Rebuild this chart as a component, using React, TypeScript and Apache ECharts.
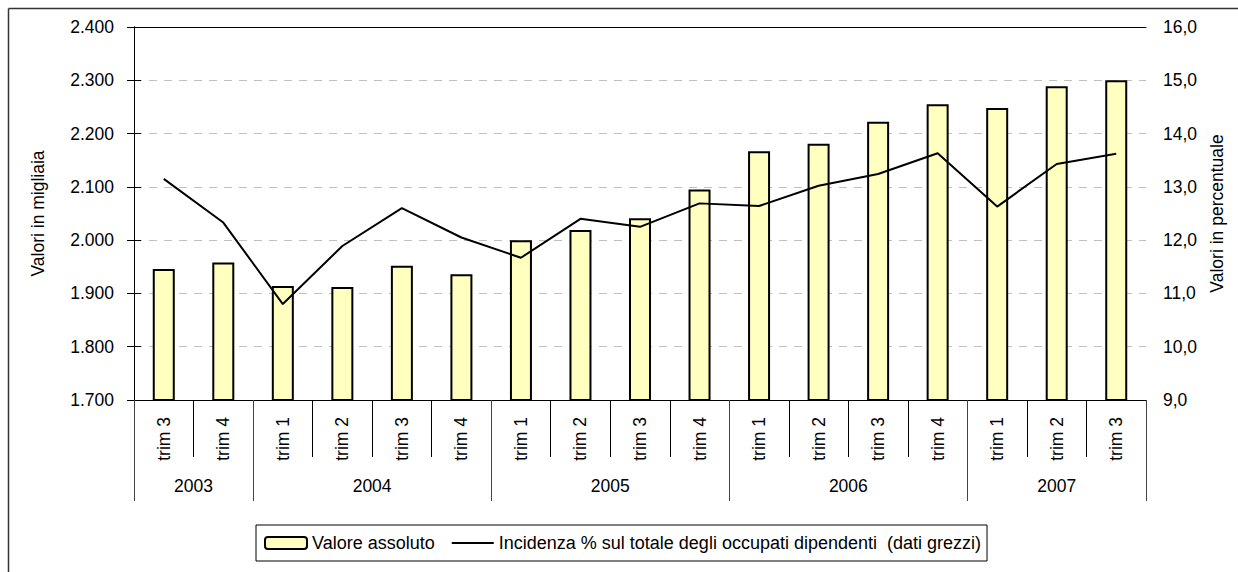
import React, { useEffect, useRef } from "react";
import * as echarts from "echarts";

const years = ["2003", "2004", "2005", "2006", "2007"];
const quartersByYear = [
  ["trim 3", "trim 4"],
  ["trim 1", "trim 2", "trim 3", "trim 4"],
  ["trim 1", "trim 2", "trim 3", "trim 4"],
  ["trim 1", "trim 2", "trim 3", "trim 4"],
  ["trim 1", "trim 2", "trim 3"],
];
const absValues = [1946, 1958, 1914, 1912, 1952, 1936, 2000, 2019, 2041, 2095, 2167, 2181, 2222, 2255, 2248, 2289, 2300];
const pctValues = [13.15, 12.33, 10.8, 11.89, 12.6, 12.05, 11.67, 12.4, 12.25, 12.69, 12.64, 13.02, 13.24, 13.63, 12.63, 13.43, 13.62];

const barName = "Valore assoluto";
const lineName = "Incidenza % sul totale degli occupati dipendenti  (dati grezzi)";
const leftAxisName = "Valori in migliaia";
const rightAxisName = "Valori in percentuale";

const FONT = "'Liberation Sans', Arial, sans-serif";
const AX = 17.5;

export default function App() {
  const ref = useRef<HTMLDivElement>(null);
  useEffect(() => {
    if (!ref.current) return;
    const chart = echarts.init(ref.current, undefined, { renderer: "svg" });

    const categories: string[] = [];
    const catLabel: Record<string, string> = {};
    quartersByYear.forEach((qs, yi) => {
      qs.forEach((q) => {
        const key = years[yi] + "|" + q;
        categories.push(key);
        catLabel[key] = q;
      });
    });
    const boundaries: number[] = [0];
    const centers: number[] = [];
    const centerYear: Record<string, string> = {};
    let acc = 0;
    quartersByYear.forEach((qs, yi) => {
      const c = acc + qs.length / 2;
      centers.push(c);
      centerYear[String(c)] = years[yi];
      acc += qs.length;
      boundaries.push(acc);
    });
    const total = acc;

    const fmtThousands = (v: number) => {
      const th = Math.floor(v / 1000);
      const rest = String(Math.round(v % 1000)).padStart(3, "0");
      return th + "." + rest;
    };

    chart.setOption({
      animation: false,
      textStyle: { fontFamily: FONT, color: "#000" },
      grid: {
        left: 134,
        right: 92,
        top: 27,
        bottom: 172,
        containLabel: false,
        outerBoundsMode: "none",
      },
      graphic: [
        {
          type: "line",
          shape: { x1: 8.5, y1: 8.5, x2: 1238, y2: 8.5 },
          style: { stroke: "#333", lineWidth: 1.5 },
          z: -1,
        },
        {
          type: "line",
          shape: { x1: 8.5, y1: 8.5, x2: 8.5, y2: 572 },
          style: { stroke: "#333", lineWidth: 1.5 },
          z: -1,
        },
      ],
      legend: {
        left: 256,
        top: 525,
        orient: "horizontal",
        borderColor: "#000",
        borderWidth: 1,
        padding: [9, 6, 9, 8],
        itemGap: 17,
        itemWidth: 42,
        itemHeight: 12,
        textStyle: { fontFamily: FONT, fontSize: 18, color: "#000" },
        data: [
          { name: barName },
          {
            name: lineName,
            icon: "path://M0,0 L40,0 L40,2 L0,2 Z",
            itemStyle: { color: "#000", borderWidth: 0 },
          },
        ],
      },
      xAxis: [
        {
          type: "category",
          position: "bottom",
          data: categories,
          boundaryGap: true,
          axisLine: { show: true, lineStyle: { color: "#000", width: 1 } },
          axisTick: { show: true, interval: 0, length: 57, lineStyle: { color: "#000", width: 1 } },
          axisLabel: {
            interval: 0,
            rotate: 90,
            margin: 17,
            fontSize: AX,
            fontFamily: FONT,
            color: "#000",
            formatter: (v: string) => catLabel[v] ?? v,
          },
          splitLine: { show: false },
        },
        {
          type: "value",
          position: "bottom",
          min: 0,
          max: total,
          axisLine: { show: false },
          axisTick: {
            show: true,
            customValues: boundaries,
            length: 101,
            lineStyle: { color: "#444", width: 1 },
          },
          axisLabel: {
            show: true,
            customValues: centers,
            margin: 77,
            fontSize: AX,
            fontFamily: FONT,
            color: "#000",
            formatter: (v: number) => centerYear[String(v)] ?? "",
          },
          splitLine: { show: false },
        },
        {
          type: "value",
          position: "top",
          min: 0,
          max: total,
          z: 10,
          axisLine: { show: true, lineStyle: { color: "#000", width: 1 } },
          axisTick: { show: false },
          axisLabel: { show: false },
          splitLine: { show: false },
        },
      ],
      yAxis: [
        {
          type: "value",
          position: "left",
          min: 1700,
          max: 2400,
          interval: 100,
          name: leftAxisName,
          nameLocation: "middle",
          nameGap: 87,
          nameRotate: 90,
          nameTextStyle: { fontSize: AX, fontFamily: FONT, color: "#000" },
          axisLine: { show: true, lineStyle: { color: "#000", width: 1 } },
          axisTick: { show: true, length: 7, lineStyle: { color: "#000" } },
          axisLabel: {
            margin: 20,
            fontSize: AX,
            fontFamily: FONT,
            color: "#000",
            formatter: (v: number) => fmtThousands(v),
          },
          splitLine: {
            show: true,
            lineStyle: { color: "#c0c0c0", width: 1, type: [8, 7] },
          },
        },
        {
          type: "value",
          position: "right",
          min: 9,
          max: 16,
          interval: 1,
          name: rightAxisName,
          nameLocation: "middle",
          nameGap: 61,
          nameRotate: 90,
          nameTextStyle: { fontSize: AX, fontFamily: FONT, color: "#000" },
          axisLine: { show: true, lineStyle: { color: "#000", width: 1 } },
          axisTick: { show: true, length: 7, lineStyle: { color: "#000" } },
          axisLabel: {
            margin: 17,
            fontSize: AX,
            fontFamily: FONT,
            color: "#000",
            formatter: (v: number) => v.toFixed(1).replace(".", ","),
          },
          splitLine: { show: false },
        },
      ],
      series: [
        {
          name: barName,
          type: "bar",
          xAxisIndex: 0,
          yAxisIndex: 0,
          data: absValues,
          barWidth: 22,
          itemStyle: { color: "#FFFFC0", borderColor: "#000", borderWidth: 2 },
        },
        {
          name: lineName,
          type: "line",
          xAxisIndex: 0,
          yAxisIndex: 1,
          data: pctValues,
          symbol: "none",
          lineStyle: { color: "#000", width: 2 },
          itemStyle: { color: "#000" },
          z: 5,
        },
      ],
    });
    return () => chart.dispose();
  }, []);
  return (
    <div
      ref={ref}
      style={{ position: "absolute", left: 0, top: 0, width: 1238, height: 572, background: "#fff" }}
    />
  );
}
